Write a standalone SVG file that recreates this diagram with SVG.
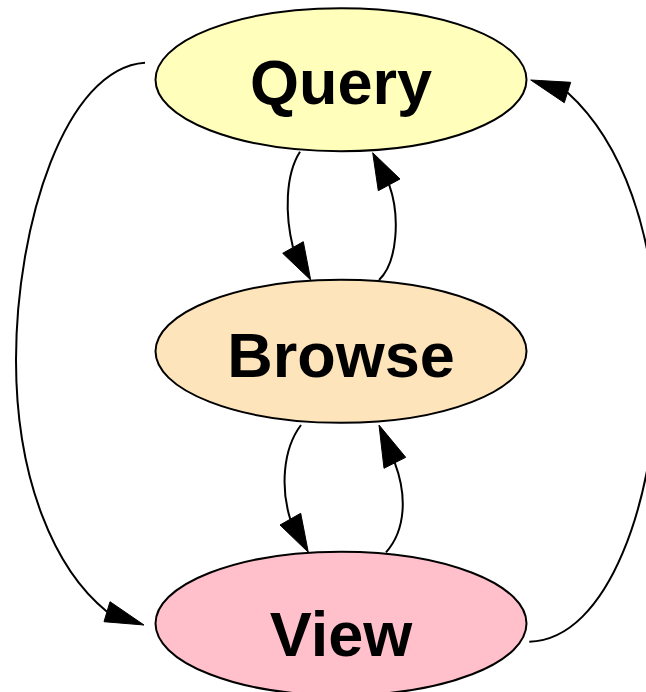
<svg xmlns="http://www.w3.org/2000/svg" width="646" height="692" viewBox="0 0 646 692">
<style>
.node ellipse{stroke:#000;stroke-width:2}
.node text{font-family:"Liberation Sans",Arial,Helvetica,sans-serif;font-weight:bold;font-size:63px;text-anchor:middle;fill:#000}
.edge path{fill:none;stroke:#000;stroke-width:2}
.edge polygon{fill:#000;stroke:#000;stroke-width:1}
</style>
<rect width="646" height="692" fill="#fff"/>
<g id="edges">
  <g class="edge" id="e_query_view">
    <path d="M145,62.7 C65,68 16,225 16,360 C16,480 55,570 107,611.7"/>
    <polygon points="144,625 104,621.7 110,601.7"/>
  </g>
  <g class="edge" id="e_view_query">
    <path d="M529.3,641.7 C608,640 657,500 658,360 C657,230 620,140 567.5,92.5"/>
    <polygon points="530.7,80 570.7,82.3 564.3,102.7"/>
  </g>
  <g class="edge" id="e_query_browse">
    <path d="M300,151.7 C285,175 285,215 293,247.5"/>
    <polygon points="310.7,280 282.7,253.3 303.3,241.7"/>
  </g>
  <g class="edge" id="e_browse_query">
    <path d="M379,280 C398,262 400,215 389.2,184.8"/>
    <polygon points="372.7,152.7 378.3,190.7 400,179"/>
  </g>
  <g class="edge" id="e_browse_view">
    <path d="M301,425 C282,450 281,490 290.3,519.2"/>
    <polygon points="308.3,552.3 280,525 300.7,513.3"/>
  </g>
  <g class="edge" id="e_view_browse">
    <path d="M386,552.3 C406,530 407,495 394.8,462.8"/>
    <polygon points="379,425 384,468.3 405.7,457.3"/>
  </g>
</g>
<g class="node" id="query">
  <ellipse cx="341" cy="79.7" rx="185.5" ry="71.5" fill="#ffffbb"/>
  <text x="341" y="103.5">Query</text>
</g>
<g class="node" id="browse">
  <ellipse cx="341" cy="351.3" rx="185.5" ry="71.5" fill="#fde4bb"/>
  <text x="341" y="377">Browse</text>
</g>
<g class="node" id="view">
  <ellipse cx="341" cy="623.5" rx="185.5" ry="71.8" fill="#ffc0cb"/>
  <text x="341" y="656">View</text>
</g>
</svg>
